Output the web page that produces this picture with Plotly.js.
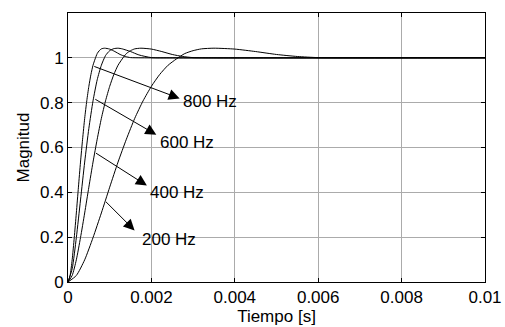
<!DOCTYPE html>
<html>
<head>
<meta charset="utf-8">
<script src="https://cdn.plot.ly/plotly-3.0.1.min.js"></script>
<style>
html,body{margin:0;padding:0;background:#fff;}
#chart{width:505px;height:327px;}
</style>
</head>
<body>
<div id="chart"></div>
<script>
// Time (s) and magnitude, one pair of arrays per curve
var t200 = [0, 0.0002, 0.0004, 0.0006, 0.0008, 0.001, 0.0012, 0.0014, 0.0016, 0.0018, 0.002, 0.0022, 0.0024, 0.0026, 0.0028, 0.003, 0.0032, 0.0035, 0.004, 0.0045, 0.005, 0.0055, 0.006, 0.007, 0.01];
var y200 = [0, 0.029, 0.099, 0.198, 0.308, 0.423, 0.535, 0.637, 0.730, 0.808, 0.873, 0.926, 0.967, 0.995, 1.019, 1.032, 1.040, 1.043, 1.039, 1.028, 1.015, 1.006, 1.001, 1.000, 1.000];

var t400 = [0, 0.0001, 0.0002, 0.0003, 0.0004, 0.0005, 0.0006, 0.0007, 0.0008, 0.0009, 0.001, 0.0011, 0.0012, 0.0013, 0.0014, 0.0015, 0.0016, 0.00175, 0.002, 0.00225, 0.0025, 0.00275, 0.003, 0.0035, 0.01];
var y400 = [0, 0.029, 0.099, 0.198, 0.308, 0.423, 0.535, 0.637, 0.730, 0.808, 0.873, 0.926, 0.967, 0.995, 1.019, 1.032, 1.040, 1.043, 1.039, 1.028, 1.015, 1.006, 1.001, 1.000, 1.000];

var t600 = [0, 0.0001, 0.0002, 0.0003, 0.0004, 0.0005, 0.0006, 0.0007, 0.0008, 0.0009, 0.001, 0.0011, 0.0012, 0.0013, 0.0015, 0.0017, 0.002, 0.0025, 0.01];
var y600 = [0, 0.059, 0.198, 0.366, 0.535, 0.685, 0.808, 0.902, 0.967, 1.010, 1.032, 1.041, 1.043, 1.040, 1.028, 1.013, 1.001, 1.000, 1.000];

var t800 = [0, 0.00005, 0.0001, 0.00015, 0.0002, 0.00025, 0.0003, 0.00035, 0.0004, 0.00045, 0.0005, 0.00055, 0.0006, 0.00065, 0.0007, 0.00075, 0.0008, 0.000875, 0.001, 0.001125, 0.00125, 0.001375, 0.0015, 0.00175, 0.01];
var y800 = [0, 0.029, 0.099, 0.198, 0.308, 0.423, 0.535, 0.637, 0.730, 0.808, 0.873, 0.926, 0.967, 0.995, 1.019, 1.032, 1.040, 1.043, 1.039, 1.028, 1.015, 1.006, 1.001, 1.000, 1.000];

var seriesLabels = ['800 Hz', '600 Hz', '400 Hz', '200 Hz'];
var xTicks = [0, 0.002, 0.004, 0.006, 0.008, 0.01];
var xTickText = ['0', '0.002', '0.004', '0.006', '0.008', '0.01'];
var yTicks = [0, 0.2, 0.4, 0.6, 0.8, 1];
var yTickText = ['0', '0.2', '0.4', '0.6', '0.8', '1'];

var FONT = 'Liberation Sans, Arial, sans-serif';
var lineStyle = {color: '#000', width: 1, shape: 'spline', smoothing: 0.6};

function tr(x, y, name) {
  return {x: x, y: y, type: 'scatter', mode: 'lines', name: name, line: lineStyle, hoverinfo: 'skip'};
}
var data = [
  tr(t800, y800, seriesLabels[0]),
  tr(t600, y600, seriesLabels[1]),
  tr(t400, y400, seriesLabels[2]),
  tr(t200, y200, seriesLabels[3])
];

// arrow positions (head near label, tail on curve) in data coords
var arrows = [
  {hx: 0.002677, hy: 0.819, tx: 0.000595, ty: 0.964, lx: 0.002732, ly: 0.804},
  {hx: 0.002118, hy: 0.657, tx: 0.000619, ty: 0.819, lx: 0.002173, ly: 0.622},
  {hx: 0.001892, hy: 0.430, tx: 0.000636, ty: 0.579, lx: 0.001933, ly: 0.401},
  {hx: 0.001597, hy: 0.230, tx: 0.000876, ty: 0.364, lx: 0.001757, ly: 0.190}
];
var annotations = [];
arrows.forEach(function (a, i) {
  annotations.push({
    x: a.hx, y: a.hy, ax: a.tx, ay: a.ty, xref: 'x', yref: 'y', axref: 'x', ayref: 'y',
    text: '', showarrow: true, arrowhead: 2, arrowsize: 2.2, arrowwidth: 1, arrowcolor: '#000', standoff: 0
  });
  annotations.push({
    x: a.lx, y: a.ly, xref: 'x', yref: 'y', text: seriesLabels[i], showarrow: false,
    xanchor: 'left', yanchor: 'middle', font: {family: FONT, size: 17, color: '#000'}, borderpad: 0
  });
});

var axisCommon = {
  showline: true, linecolor: '#000', linewidth: 1, mirror: 'ticks',
  ticks: 'inside', ticklen: 4, tickcolor: '#000', tickwidth: 1,
  showgrid: true, gridcolor: '#ababab', gridwidth: 1, zeroline: false,
  tickfont: {family: FONT, size: 17, color: '#000'}, tickmode: 'array'
};

var layout = {
  width: 505, height: 327,
  margin: {l: 68, r: 20, t: 13, b: 45},
  paper_bgcolor: '#fff', plot_bgcolor: '#fff',
  showlegend: false,
  font: {family: FONT, size: 17, color: '#000'},
  xaxis: Object.assign({}, axisCommon, {
    range: [0, 0.01], tickvals: xTicks, ticktext: xTickText,
    title: {text: 'Tiempo [s]', font: {family: FONT, size: 17, color: '#000'}, standoff: 1}
  }),
  yaxis: Object.assign({}, axisCommon, {
    range: [0, 1.2], tickvals: yTicks, ticktext: yTickText,
    title: {text: 'Magnitud', font: {family: FONT, size: 17, color: '#000'}, standoff: 6}
  }),
  annotations: annotations
};

Plotly.newPlot('chart', data, layout, {staticPlot: true, displayModeBar: false});
</script>
</body>
</html>
